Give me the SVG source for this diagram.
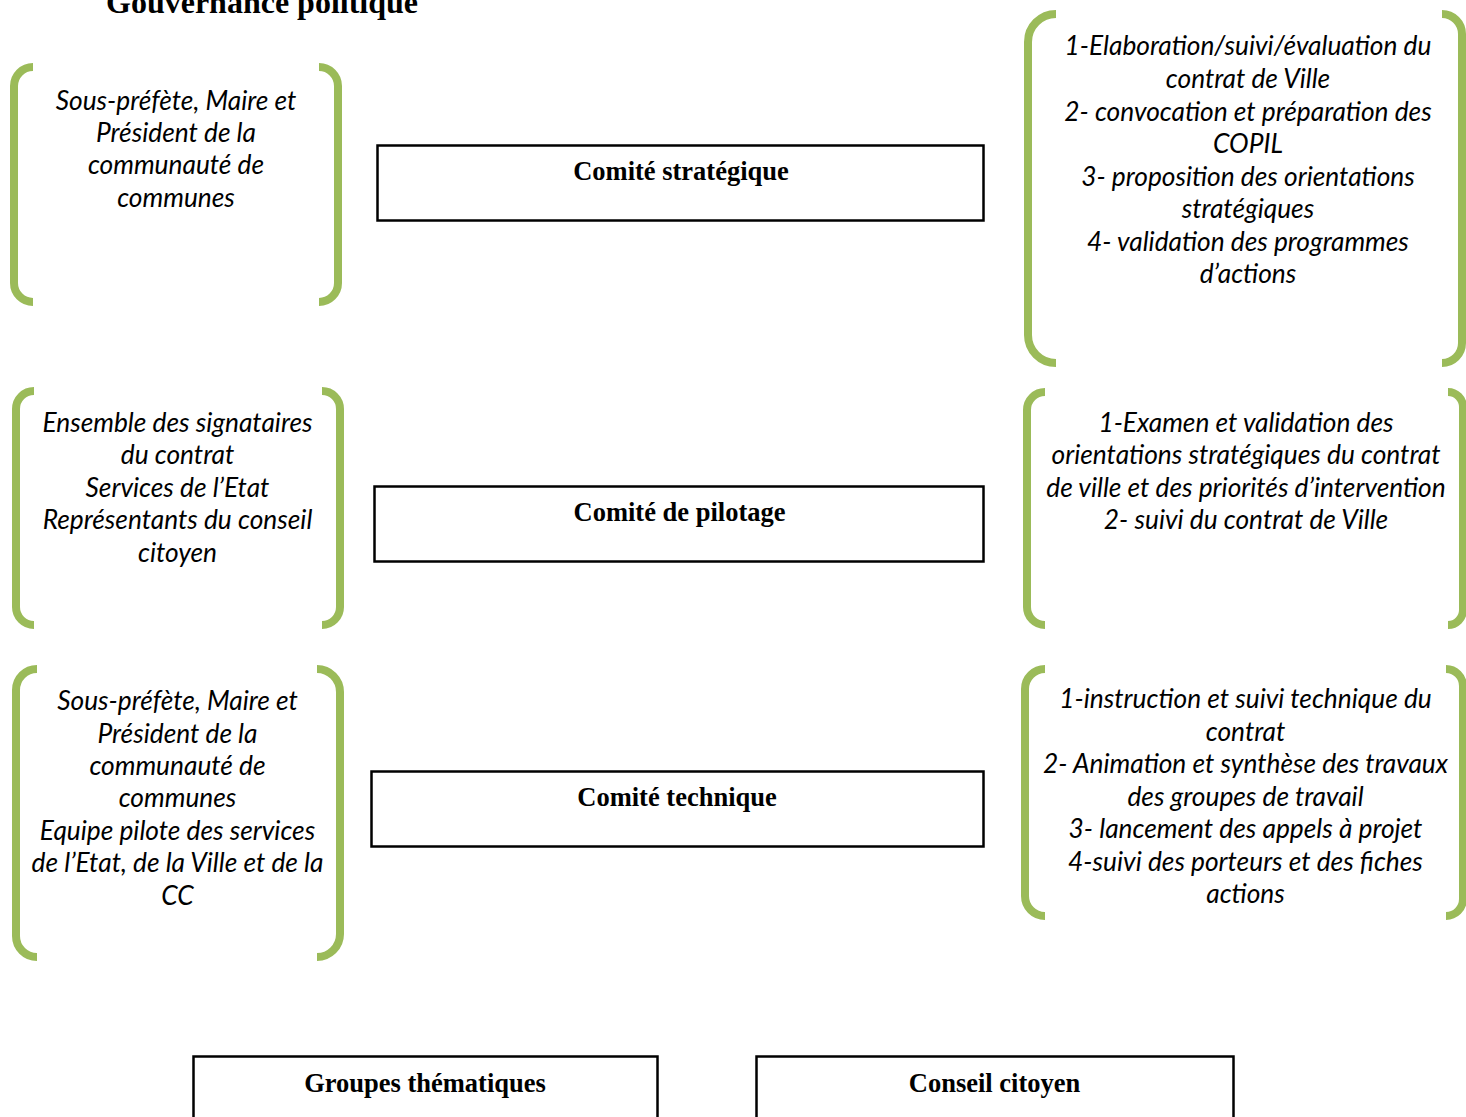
<svg xmlns="http://www.w3.org/2000/svg" width="1466" height="1117" viewBox="0 0 1466 1117">
<style>
.br{fill:none;stroke:#9BBB59;stroke-width:8;stroke-linecap:butt}
.box{fill:#fff;stroke:#000;stroke-width:2.5}
.t{font-family:Lato,"Open Sans",sans-serif;font-style:italic;font-size:26.3px;fill:#000;text-anchor:middle}
.b{font-family:"Liberation Serif","Times New Roman",serif;font-weight:bold;font-size:26.5px;fill:#000;text-anchor:middle}
.title{font-family:"Liberation Serif","Times New Roman",serif;font-weight:bold;font-size:32px;fill:#000;text-anchor:middle}
</style>
<rect width="1466" height="1117" fill="#fff"/>
<text class="title" x="262" y="13">Gouvernance politique</text>

<g id="members-strategique">
<path class="br" d="M33,67 A19,19 0 0 0 14,86 V283 A19,19 0 0 0 33,302"/>
<path class="br" d="M319,67 A19,19 0 0 1 338,86 V283 A19,19 0 0 1 319,302"/>
<text class="t" x="176"><tspan x="176" y="109.5">Sous-préfète, Maire et</tspan><tspan x="176" y="142">Président de la</tspan><tspan x="176" y="174">communauté de</tspan><tspan x="176" y="206.5">communes</tspan></text>
</g>

<g id="comite-strategique">
<rect class="box" x="377.5" y="145.5" width="606" height="75"/>
<text class="b" x="681" y="180">Comité stratégique</text>
</g>

<g id="missions-strategique">
<path class="br" d="M1056,14 A28,28 0 0 0 1028,42 V335 A28,28 0 0 0 1056,363"/>
<path class="br" d="M1442,14 A20,20 0 0 1 1462,34 V343 A20,20 0 0 1 1442,363"/>
<text class="t" x="1248"><tspan x="1248" y="55">1-Elaboration/suivi/évaluation du</tspan><tspan x="1248" y="88">contrat de Ville</tspan><tspan x="1248" y="120.5">2- convocation et préparation des</tspan><tspan x="1248" y="153">COPIL</tspan><tspan x="1248" y="185.5">3- proposition des orientations</tspan><tspan x="1248" y="218">stratégiques</tspan><tspan x="1248" y="250.5">4- validation des programmes</tspan><tspan x="1248" y="283">d’actions</tspan></text>
</g>

<g id="members-pilotage">
<path class="br" d="M34,391 A18,18 0 0 0 16,409 V607 A18,18 0 0 0 34,625"/>
<path class="br" d="M322,391 A18,18 0 0 1 340,409 V607 A18,18 0 0 1 322,625"/>
<text class="t" x="177.5"><tspan x="177.5" y="431.5">Ensemble des signataires</tspan><tspan x="177.5" y="464">du contrat</tspan><tspan x="177.5" y="496.5">Services de l’Etat</tspan><tspan x="177.5" y="529">Représentants du conseil</tspan><tspan x="177.5" y="561.5">citoyen</tspan></text>
</g>

<g id="comite-pilotage">
<rect class="box" x="374.5" y="486.5" width="609" height="75"/>
<text class="b" x="679.5" y="521">Comité de pilotage</text>
</g>

<g id="missions-pilotage">
<path class="br" d="M1045,392 A18,18 0 0 0 1027,410 V607 A18,18 0 0 0 1045,625"/>
<path class="br" d="M1448,392 A15,15 0 0 1 1463,407 V610 A15,15 0 0 1 1448,625"/>
<text class="t" x="1246"><tspan x="1246" y="431.5">1-Examen et validation des</tspan><tspan x="1246" y="464">orientations stratégiques du contrat</tspan><tspan x="1246" y="496.5">de ville et des priorités d’intervention</tspan><tspan x="1246" y="529">2- suivi du contrat de Ville</tspan></text>
</g>

<g id="members-technique">
<path class="br" d="M37,669 A21,21 0 0 0 16,690 V936 A21,21 0 0 0 37,957"/>
<path class="br" d="M317,669 A23,23 0 0 1 340,692 V934 A23,23 0 0 1 317,957"/>
<text class="t" x="177.5"><tspan x="177.5" y="710">Sous-préfète, Maire et</tspan><tspan x="177.5" y="742.5">Président de la</tspan><tspan x="177.5" y="775">communauté de</tspan><tspan x="177.5" y="807">communes</tspan><tspan x="177.5" y="839.5">Equipe pilote des services</tspan><tspan x="177.5" y="872">de l’Etat, de la Ville et de la</tspan><tspan x="177.5" y="904.5">CC</tspan></text>
</g>

<g id="comite-technique">
<rect class="box" x="371.5" y="771.5" width="612" height="75"/>
<text class="b" x="677" y="806">Comité technique</text>
</g>

<g id="missions-technique">
<path class="br" d="M1045,669 A20,20 0 0 0 1025,689 V896 A20,20 0 0 0 1045,916"/>
<path class="br" d="M1446,669 A17,17 0 0 1 1463,686 V899 A17,17 0 0 1 1446,916"/>
<text class="t" x="1245.5"><tspan x="1245.5" y="708">1-instruction et suivi technique du</tspan><tspan x="1245.5" y="740.5">contrat</tspan><tspan x="1245.5" y="773">2- Animation et synthèse des travaux</tspan><tspan x="1245.5" y="805.5">des groupes de travail</tspan><tspan x="1245.5" y="838">3- lancement des appels à projet</tspan><tspan x="1245.5" y="870.5">4-suivi des porteurs et des fiches</tspan><tspan x="1245.5" y="903">actions</tspan></text>
</g>

<g id="groupes-thematiques">
<rect class="box" x="193.5" y="1056.5" width="464" height="80"/>
<text class="b" x="425" y="1092">Groupes thématiques</text>
</g>

<g id="conseil-citoyen">
<rect class="box" x="756.5" y="1056.5" width="477" height="80"/>
<text class="b" x="994.5" y="1092">Conseil citoyen</text>
</g>

<g id="connectors"/>
</svg>
